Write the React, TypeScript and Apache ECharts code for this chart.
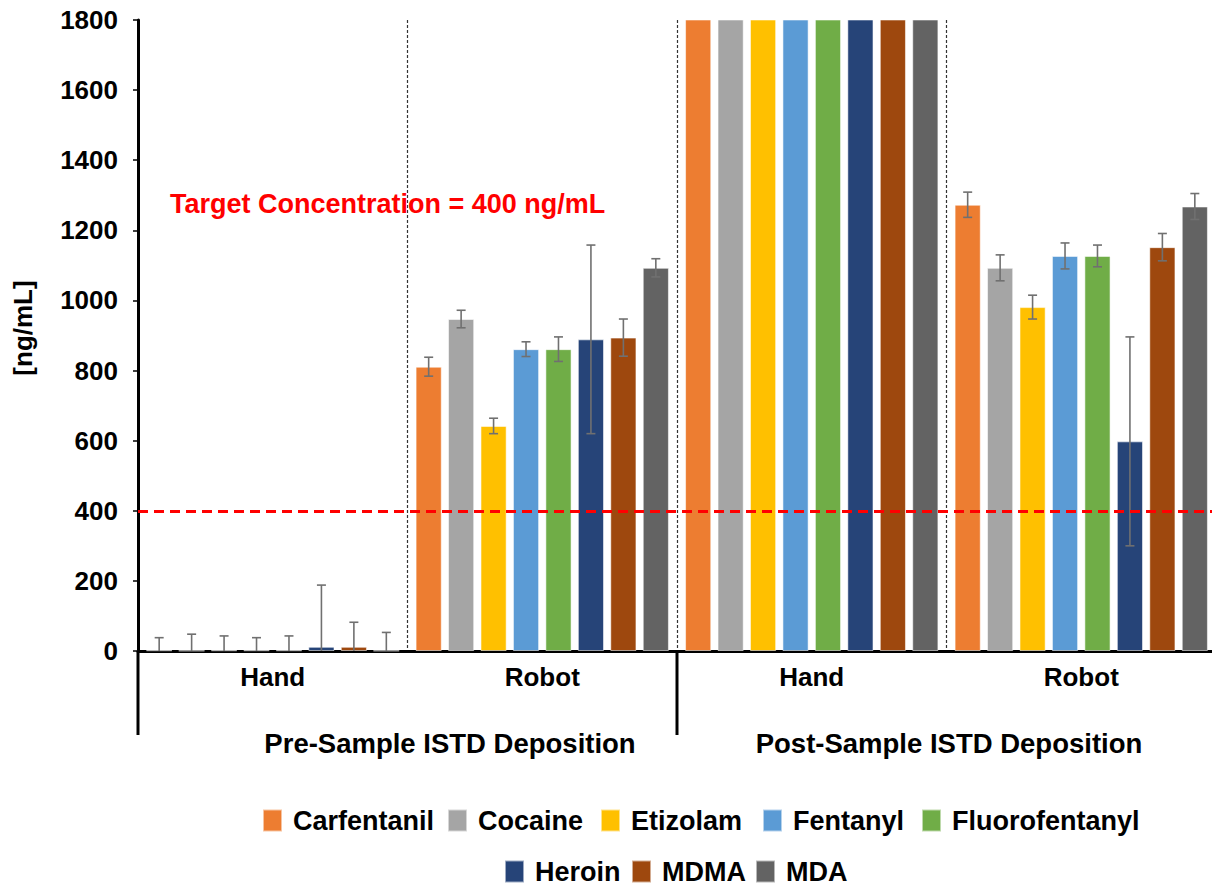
import React, { useEffect, useRef } from "react";
import * as echarts from "echarts";

// Categories: deposition method within each ISTD deposition stage
const categories = ["Hand", "Robot", "Hand", "Robot"];
const stageLabels = ["Pre-Sample ISTD Deposition", "Post-Sample ISTD Deposition"];
const drugs = ["Carfentanil", "Cocaine", "Etizolam", "Fentanyl", "Fluorofentanyl", "Heroin", "MDMA", "MDA"];
const drugColors = ["#ED7D31", "#A5A5A5", "#FFC000", "#5B9BD5", "#70AD47", "#264478", "#9E480E", "#636363"];
const yAxisTitle = "[ng/mL]";

// Mean concentrations (ng/mL) per drug, in category order [Pre Hand, Pre Robot, Post Hand, Post Robot]
const carfentanil = [2, 811, 2500, 1273];
const cocaine = [1, 947, 2450, 1093];
const etizolam = [2, 642, 2550, 981];
const fentanyl = [2, 861, 2400, 1127];
const fluorofentanyl = [2, 861, 2480, 1127];
const heroin = [12, 889, 2600, 598];
const mdma = [12, 894, 2420, 1152];
const mda = [1, 1093, 2380, 1268];

// Standard deviations (ng/mL); null where the error bar lies beyond the axis
const carfentanilSd = [36, 27, null, 36];
const cocaineSd = [47, 25, null, 37];
const etizolamSd = [41, 22, null, 34];
const fentanylSd = [36, 21, null, 37];
const fluorofentanylSd = [41, 35, null, 31];
const heroinSd = [176, 269, null, 298];
const mdmaSd = [70, 53, null, 39];
const mdaSd = [52, 26, null, 37];

const means = [carfentanil, cocaine, etizolam, fentanyl, fluorofentanyl, heroin, mdma, mda];
const sds = [carfentanilSd, cocaineSd, etizolamSd, fentanylSd, fluorofentanylSd, heroinSd, mdmaSd, mdaSd];

const TARGET = 400;
const Y_MAX = 1800;
const Y_INTERVAL = 200;

const FONT = "'Liberation Sans', Arial, Helvetica, sans-serif";
const CAT_GAP = 0.06;
const BAR_GAP = 0.24;

const GRID_LEFT = 138;
const GRID_TOP = 20;
const GRID_WIDTH = 1078;
const GRID_HEIGHT = 631;

// Legend layout: two rows, one legend box per entry
const LEGEND_ROWS = [
  { top: 807, lefts: [262, 447, 600, 762, 921], items: [0, 1, 2, 3, 4] },
  { top: 858, lefts: [504, 631, 755], items: [5, 6, 7] },
];

export default function App() {
  const ref = useRef<HTMLDivElement>(null);

  useEffect(() => {
    document.body.style.margin = "0";
    if (!ref.current) return;
    const chart = echarts.init(ref.current, null, { renderer: "svg" });
    const n = drugs.length;

    const barSeries = drugs.map((name, i) => ({
      name,
      type: "bar",
      xAxisIndex: 0,
      yAxisIndex: 0,
      data: means[i],
      barGap: `${BAR_GAP * 100}%`,
      barCategoryGap: `${CAT_GAP * 100}%`,
      clip: true,
      itemStyle: { color: drugColors[i], borderColor: "rgba(255,255,255,0.55)", borderWidth: 1 },
      z: 2,
      ...(i === 0
        ? {
            markLine: {
              silent: true,
              symbol: ["none", "none"],
              label: { show: false },
              lineStyle: { color: "#FF0000", width: 3, type: [10, 6] },
              data: [{ yAxis: TARGET }],
              z: 5,
            },
          }
        : {}),
    }));

    const errorSeries = drugs.map((name, i) => ({
      name: `${name} SD`,
      type: "custom",
      xAxisIndex: 0,
      yAxisIndex: 0,
      z: 4,
      encode: { x: 0, y: 1 },
      data: means[i]
        .map((v, c) => [c, v, sds[i][c]])
        .filter((d) => d[2] !== null),
      renderItem: (params: any, api: any) => {
        const c = api.value(0);
        const v = api.value(1);
        const e = api.value(2);
        const band = api.size([1, 0])[0];
        const usable = band * (1 - CAT_GAP);
        const barW = usable / (n + (n - 1) * BAR_GAP);
        const x0 = api.coord([c, 0])[0];
        const x = x0 - usable / 2 + i * barW * (1 + BAR_GAP) + barW / 2;
        const yTop = api.coord([c, v + e])[1];
        const yBot = api.coord([c, Math.max(0, v - e)])[1];
        const cap = 4.5;
        const style = { stroke: "#707070", lineWidth: 1.6 };
        const children: any[] = [
          { type: "line", shape: { x1: x, y1: yTop, x2: x, y2: yBot }, style },
          { type: "line", shape: { x1: x - cap, y1: yTop, x2: x + cap, y2: yTop }, style },
        ];
        if (v - e > 0) {
          children.push({ type: "line", shape: { x1: x - cap, y1: yBot, x2: x + cap, y2: yBot }, style });
        }
        return { type: "group", children };
      },
    }));

    const legends: any[] = [];
    LEGEND_ROWS.forEach((row) => {
      row.items.forEach((idx, k) => {
        legends.push({
          data: [drugs[idx]],
          left: row.lefts[k],
          top: row.top,
          padding: 0,
          itemWidth: 19,
          itemHeight: 22,
          icon: "rect",
          textStyle: {
            color: "#000",
            fontSize: 27,
            fontWeight: "bold",
            fontFamily: FONT,
            lineHeight: 22,
            padding: [0, 0, 0, 6],
          },
        });
      });
    });

    const catW = GRID_WIDTH / categories.length;
    const axisBottom = GRID_TOP + GRID_HEIGHT;

    chart.setOption({
      animation: false,
      textStyle: { fontFamily: FONT },
      grid: {
        left: GRID_LEFT,
        top: GRID_TOP,
        width: GRID_WIDTH,
        height: GRID_HEIGHT,
        containLabel: false,
        outerBoundsMode: "none",
      },
      xAxis: [
        {
          type: "category",
          data: categories,
          position: "bottom",
          axisLine: { show: true, onZero: false, lineStyle: { color: "#4a4a4a", width: 2 } },
          axisTick: { show: false },
          axisLabel: { color: "#000", fontSize: 26, fontWeight: "bold", fontFamily: FONT, margin: 13 },
          splitLine: { show: false },
        },
        {
          type: "value",
          position: "top",
          min: 0,
          max: categories.length,
          interval: 1,
          axisLine: { show: true, lineStyle: { color: "#000", width: 3 } },
          axisTick: { show: false },
          axisLabel: { show: false },
          splitLine: { show: true, lineStyle: { color: "#333", width: 1.2, type: [3, 2] } },
        },
      ],
      yAxis: {
        type: "value",
        min: 0,
        max: Y_MAX,
        interval: Y_INTERVAL,
        axisLine: { show: true, onZero: false, lineStyle: { color: "#000", width: 3 } },
        axisTick: { show: true, length: 5, lineStyle: { color: "#000", width: 1.5 } },
        axisLabel: {
          color: "#000",
          fontSize: 26,
          fontWeight: "bold",
          fontFamily: FONT,
          margin: 20,
          formatter: (v: number) => String(v),
        },
        splitLine: { show: false },
      },
      legend: legends,
      graphic: [
        {
          type: "text",
          x: 23,
          y: 328,
          rotation: Math.PI / 2,
          style: {
            text: yAxisTitle,
            fill: "#000",
            font: `bold 26px ${FONT}`,
            align: "center",
            verticalAlign: "middle",
          },
        },
        {
          type: "text",
          left: 170,
          top: 190,
          z: 10,
          style: {
            text: `Target Concentration = ${TARGET} ng/mL`,
            fill: "#FF0000",
            font: `bold 27px ${FONT}`,
          },
        },
        {
          type: "line",
          shape: { x1: GRID_LEFT, y1: axisBottom, x2: GRID_LEFT, y2: 735 },
          style: { stroke: "#000", lineWidth: 3 },
        },
        {
          type: "line",
          shape: { x1: GRID_LEFT + 2 * catW, y1: axisBottom, x2: GRID_LEFT + 2 * catW, y2: 735 },
          style: { stroke: "#000", lineWidth: 3 },
        },
        {
          type: "text",
          x: 450,
          y: 743,
          style: {
            text: stageLabels[0],
            fill: "#000",
            font: `bold 27.5px ${FONT}`,
            align: "center",
            verticalAlign: "middle",
          },
        },
        {
          type: "text",
          x: 949,
          y: 743,
          style: {
            text: stageLabels[1],
            fill: "#000",
            font: `bold 27.5px ${FONT}`,
            align: "center",
            verticalAlign: "middle",
          },
        },
      ],
      series: [...barSeries, ...errorSeries],
    });

    return () => chart.dispose();
  }, []);

  return <div ref={ref} style={{ width: 1212, height: 885 }} />;
}
